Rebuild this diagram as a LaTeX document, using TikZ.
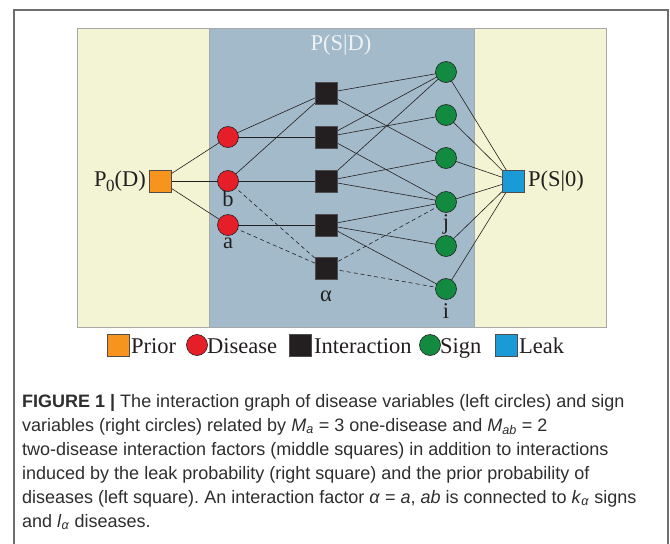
\documentclass[tikz,border=0pt]{standalone}
\usepackage{fontspec}
\setmainfont{Liberation Serif}
\setsansfont{Liberation Sans}
\usetikzlibrary{backgrounds}
\definecolor{bgyellow}{HTML}{F3F4D3}
\definecolor{bgblue}{HTML}{A3BACA}
\definecolor{edgegray}{HTML}{A8A8A8}
\definecolor{framegray}{HTML}{6E6E6E}
\definecolor{disred}{HTML}{E61E28}
\definecolor{signgreen}{HTML}{128B41}
\definecolor{priororange}{HTML}{F7941E}
\definecolor{leakblue}{HTML}{1A9BD7}
\definecolor{interblack}{HTML}{231F20}
\definecolor{inkdark}{HTML}{231F20}
\definecolor{captink}{HTML}{2E2E2E}
\definecolor{ptitle}{HTML}{EEF2F5}
\frenchspacing
\begin{document}
\begin{tikzpicture}[x=1pt,y=-1pt,
  sqbox/.style={draw=inkdark!80,line width=0.5pt,minimum size=22pt,inner sep=0pt,outer sep=0pt},
  circbox/.style={circle,draw=inkdark,line width=0.6pt,minimum size=21pt,inner sep=0pt,outer sep=0pt},
  prior/.style={sqbox,fill=priororange},
  leak/.style={sqbox,fill=leakblue},
  inter/.style={sqbox,fill=interblack},
  dis/.style={circbox,fill=disred},
  sig/.style={circbox,fill=signgreen},
  link/.style={draw=inkdark,line width=0.6pt},
  dlink/.style={link,dash pattern=on 4pt off 3pt},
  lbl/.style={font=\fontsize{22.5}{24}\selectfont,text=inkdark,inner sep=0pt},
  captxt/.style={font=\sffamily\fontsize{18}{24}\selectfont,text=captink,inner sep=0pt,anchor=base west}
]
\useasboundingbox (0,0) rectangle (670,544);
\draw[framegray,line width=1.6pt] (14,546) -- (14,10) -- (668,10) -- (668,546);

\begin{pgfonlayer}{background}
\fill[white] (0,0) rectangle (670,544);
\draw[fill=bgyellow,draw=edgegray,line width=0.6pt] (77,28) rectangle (606,327);
\draw[fill=bgblue,draw=edgegray,line width=0.6pt] (209,28) rectangle (474,327);
\end{pgfonlayer}

\node[lbl,text=ptitle] (title) at (341,45) {P(S|D)};

% nodes
\node[prior] (p0) at (160,181) {};
\node[dis] (d1) at (228,137) {};
\node[dis] (db) at (228,181) {};
\node[dis] (da) at (228,225) {};
\node[inter] (f1) at (326,93) {};
\node[inter] (f2) at (326,137) {};
\node[inter] (f3) at (326,181) {};
\node[inter] (f4) at (326,225) {};
\node[inter] (fal) at (326,268) {};
\node[sig] (s1) at (446,72) {};
\node[sig] (s2) at (446,115) {};
\node[sig] (s3) at (446,158) {};
\node[sig] (sj) at (446,202) {};
\node[sig] (s5) at (446,246) {};
\node[sig] (si) at (446,289) {};
\node[leak] (lk) at (513,181) {};

% labels
\node[lbl,anchor=east] (p0lbl) at (146,181) {P\kern-0.5pt\raisebox{-5pt}{\fontsize{17}{17}\selectfont 0}(D)};
\node[lbl,anchor=west] (lklbl) at (528,181) {P(S|0)};
\node[lbl] (blbl) at (228,199) {b};
\node[lbl] (albl) at (228,243) {a};
\node[lbl] (alphalbl) at (326,296) {α};
\node[lbl] (jlbl) at (446,224) {j};
\node[lbl] (ilbl) at (446,311) {i};

% edges
\begin{pgfonlayer}{background}
\foreach \d in {d1,db,da} \draw[link] (p0.center) -- (\d.center);
\draw[link] (d1.center) -- (f1.center);
\draw[link] (d1.center) -- (f2.center);
\draw[link] (db.center) -- (f1.center);
\draw[link] (db.center) -- (f3.center);
\draw[link] (da.center) -- (f4.center);
\draw[dlink] (db.center) -- (fal.center);
\draw[dlink] (da.center) -- (fal.center);
\draw[link] (f1.center) -- (s1.center);
\draw[link] (f1.center) -- (s3.center);
\draw[link] (f2.center) -- (s1.center);
\draw[link] (f2.center) -- (s2.center);
\draw[link] (f2.center) -- (sj.center);
\draw[link] (f3.center) -- (s1.center);
\draw[link] (f3.center) -- (s3.center);
\draw[link] (f3.center) -- (sj.center);
\draw[link] (f4.center) -- (sj.center);
\draw[link] (f4.center) -- (s5.center);
\draw[link] (f4.center) -- (si.center);
\draw[dlink] (fal.center) -- (sj.center);
\draw[dlink] (fal.center) -- (si.center);
\foreach \s in {s1,s2,s3,sj,s5,si} \draw[link] (\s.center) -- (lk.center);
\end{pgfonlayer}

% legend
\node[prior] (lgp) at (118,345) {};
\node[lbl,anchor=base west] (lgptxt) at (131,353) {Prior};
\node[dis] (lgd) at (197,345) {};
\node[lbl,anchor=base west] (lgdtxt) at (207,353) {Disease};
\node[inter] (lgi) at (300,345) {};
\node[lbl,anchor=base west] (lgitxt) at (314,353) {Interaction};
\node[sig] (lgs) at (430,345) {};
\node[lbl,anchor=base west] (lgstxt) at (440,353) {Sign};
\node[leak] (lgl) at (506,345) {};
\node[lbl,anchor=base west] (lgltxt) at (519,353) {Leak};

% caption
\node[captxt] (c1) at (22,407) {\textbf{FIGURE 1 |} The interaction graph of disease variables (left circles) and sign};
\node[captxt] (c2) at (22,431) {variables (right circles) related by \textit{M}\textsubscript{\textit{a}} = 3 one-disease and \textit{M}\textsubscript{\textit{ab}} = 2};
\node[captxt] (c3) at (22,455) {two-disease interaction factors (middle squares) in addition to interactions};
\node[captxt] (c4) at (22,479) {induced by the leak probability (right square) and the prior probability of};
\node[captxt] (c5) at (22,503) {diseases (left square). An interaction factor \textit{α} = \textit{a}, \textit{ab} is connected to \textit{k}\textsubscript{\textit{α}} signs};
\node[captxt] (c6) at (22,527) {and \textit{l}\textsubscript{\textit{α}} diseases.};
\end{tikzpicture}
\end{document}
